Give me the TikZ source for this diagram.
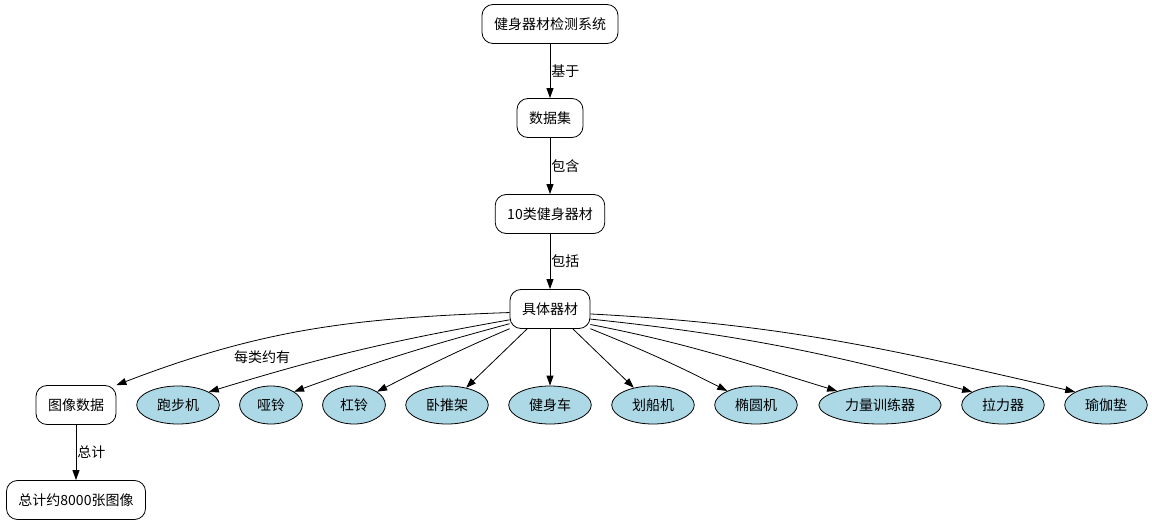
\documentclass[tikz,border=0pt]{standalone}
\usepackage{fontspec}
\newfontfamily\cjk{Noto Sans CJK SC}
\usetikzlibrary{arrows.meta,shapes.geometric}
\definecolor{lb}{RGB}{173,216,230}
\begin{document}
\begin{tikzpicture}[x=1pt,y=1pt,
  txt/.style={font=\cjk\fontsize{14}{16}\selectfont},
  box/.style={txt,draw,rounded corners=11pt,inner xsep=12pt,inner ysep=0pt,minimum height=39pt,line width=0.8pt},
  ell/.style={txt,draw,ellipse,fill=lb,inner xsep=8.2pt,inner ysep=0pt,minimum height=38pt,line width=0.8pt},
  arr/.style={-{Triangle[length=10pt,width=7pt]},line width=0.8pt},
  lab/.style={txt,inner sep=1pt}]
\useasboundingbox (0,0) rectangle (1152,-524);
\node[box] (sys) at (550,-24) {健身器材检测系统};
\node[box] (ds) at (550,-118) {数据集};
\node[box] (cls) at (550,-214) {10类健身器材};
\node[box] (spec) at (550,-309) {具体器材};
\node[box] (img) at (76,-405) {图像数据};
\node[box] (total) at (76,-500) {总计约8000张图像};
\node[ell] (e1) at (178,-405) {跑步机};
\node[ell] (e2) at (271,-405) {哑铃};
\node[ell] (e3) at (354,-405) {杠铃};
\node[ell] (e4) at (447,-405) {卧推架};
\node[ell] (e5) at (550,-405) {健身车};
\node[ell] (e6) at (653,-405) {划船机};
\node[ell] (e7) at (756,-405) {椭圆机};
\node[ell] (e8) at (880,-405) {力量训练器};
\node[ell] (e9) at (1003,-405) {拉力器};
\node[ell] (e10) at (1106,-405) {瑜伽垫};
\draw[arr] (sys) -- node[lab,right] {基于} (ds);
\draw[arr] (ds) -- node[lab,right] {包含} (cls);
\draw[arr] (cls) -- node[lab,right] {包括} (spec);
\draw[arr] (img) -- node[lab,right] {总计} (total);
\draw[arr] (spec.185) to[out=182,in=21] (img.north east);
\node[lab] (lbl) at (262,-357) {每类约有};
\draw[arr] (spec.195) to[out=190,in=17] (e1.23);
\draw[arr] (spec.200) to[out=195,in=20] (e2.30);
\draw[arr] (spec.206) to[out=203,in=27] (e3.30);
\draw[arr] (spec.221) -- (e4.42);
\draw[arr] (spec) -- (e5);
\draw[arr] (spec.319) -- (e6.138);
\draw[arr] (spec.334) to[out=-22,in=153] (e7.154);
\draw[arr] (spec.339) to[out=-11,in=163] (e8.162);
\draw[arr] (spec.346) to[out=-6,in=165] (e9.157);
\draw[arr] (spec.353) to[out=-3,in=167] (e10.157);
\end{tikzpicture}
\end{document}
